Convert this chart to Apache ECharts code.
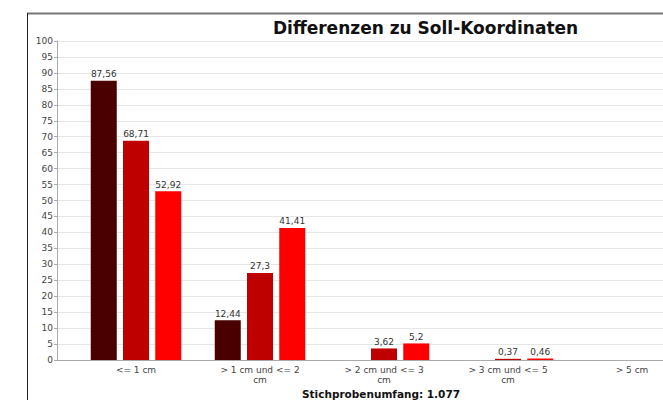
<!DOCTYPE html>
<html>
<head>
<meta charset="utf-8">
<script src="https://cdn.jsdelivr.net/npm/echarts@6/dist/echarts.min.js"></script>
<style>
  html, body { margin: 0; padding: 0; background: #fff; }
  #chart { width: 663px; height: 400px; }
</style>
</head>
<body>
<div id="chart"></div>
<script>
var categories = ['<= 1 cm', '> 1 cm und <= 2\ncm', '> 2 cm und <= 3\ncm', '> 3 cm und <= 5\ncm', '> 5 cm']
var serie1 = [87.56, 12.44, 0, 0, 0]
var serie2 = [68.71, 27.3, 3.62, 0.37, 0]
var serie3 = [52.92, 41.41, 5.2, 0.46, 0]
var yTicks = { min: 0, max: 100, interval: 5 }

var chart = echarts.init(document.getElementById('chart'), null, {renderer: 'svg'})

var fontFam = 'DejaVu Sans'

function makeBar (name, data, color) {
  return {
    name: name,
    type: 'bar',
    xAxisIndex: 1,
    yAxisIndex: 1,
    data: data,
    barWidth: 26,
    barGap: '24%',
    itemStyle: {
      color: color
    },
    label: {
      show: true,
      position: 'top',
      distance: 2,
      fontSize: 9,
      fontFamily: fontFam,
      color: '#333',
      formatter: function (p) {
        if (!p.value) return ''
        return String(p.value).replace('.', ',')
      }
    }
  }
}

var option = {
  animation: false,
  title: {
    text: 'Differenzen zu Soll-Koordinaten',
    left: 268,
    top: 14,
    textStyle: {
      fontSize: 17,
      fontWeight: 'bold',
      fontFamily: fontFam,
      color: '#111'
    }
  },
  graphic: [
    {
      type: 'line',
      shape: { x1: 27, y1: 13.5, x2: 663, y2: 13.5 },
      style: { stroke: '#777', lineWidth: 2 }
    },
    {
      type: 'line',
      shape: { x1: 27.5, y1: 13, x2: 27.5, y2: 400 },
      style: { stroke: '#222', lineWidth: 1 }
    },
    {
      type: 'text',
      left: 302,
      top: 388,
      style: {
        text: 'Stichprobenumfang: 1.077',
        fontSize: 10.5,
        fontWeight: 'bold',
        fontFamily: fontFam,
        fill: '#111'
      }
    }
  ],
  grid: [
    { left: 57, top: 41, right: -10, bottom: 40, outerBoundsMode: 'none' },
    { left: 74, top: 41, width: 620, bottom: 40, outerBoundsMode: 'none' }
  ],
  xAxis: [
    {
      type: 'value',
      gridIndex: 0,
      min: 0,
      max: 1,
      axisLabel: { show: false },
      axisTick: { show: false },
      splitLine: { show: false },
      axisLine: { show: true, lineStyle: { color: '#aaa' } }
    },
    {
      type: 'category',
      gridIndex: 1,
      data: categories,
      axisLine: { show: false },
      axisTick: { show: false },
      axisLabel: {
        interval: 0,
        margin: 5,
        fontSize: 9,
        lineHeight: 10,
        fontFamily: fontFam,
        color: '#444'
      }
    }
  ],
  yAxis: [
    {
      type: 'value',
      gridIndex: 0,
      min: yTicks.min,
      max: yTicks.max,
      interval: yTicks.interval,
      axisLine: { show: true, lineStyle: { color: '#aaa' } },
      axisTick: { show: true, length: 3, lineStyle: { color: '#aaa' } },
      axisLabel: {
        margin: 4,
        fontSize: 9,
        fontFamily: fontFam,
        color: '#444'
      },
      splitLine: { lineStyle: { color: '#e6e6e6' } }
    },
    {
      type: 'value',
      gridIndex: 1,
      min: yTicks.min,
      max: yTicks.max,
      interval: yTicks.interval,
      show: false
    }
  ],
  series: [
    makeBar('Serie 1', serie1, '#4a0000'),
    makeBar('Serie 2', serie2, '#bf0000'),
    makeBar('Serie 3', serie3, '#ff0000')
  ]
}

chart.setOption(option, true)
</script>
</body>
</html>
